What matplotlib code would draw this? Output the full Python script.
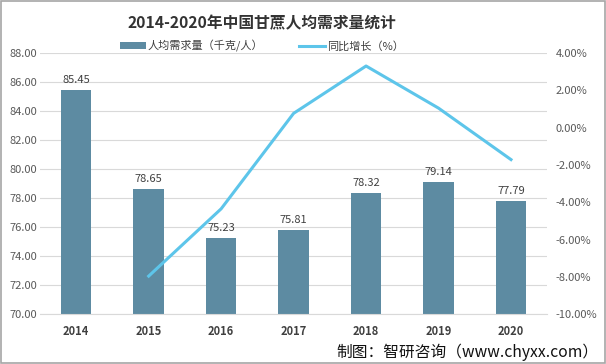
import matplotlib
matplotlib.use("Agg")
import matplotlib.pyplot as plt
from matplotlib.patches import Rectangle

plt.rcParams['font.family'] = ['Noto Sans CJK SC', 'DejaVu Sans']

years = ['2014', '2015', '2016', '2017', '2018', '2019', '2020']
demand = [85.45, 78.65, 75.23, 75.81, 78.32, 79.14, 77.79]
growth_years = ['2015', '2016', '2017', '2018', '2019', '2020']
growth = [-7.96, -4.35, 0.77, 3.31, 1.05, -1.71]
left_ticks = [70, 72, 74, 76, 78, 80, 82, 84, 86, 88]
right_ticks = [-10, -8, -6, -4, -2, 0, 2, 4]

bar_color = '#5D8BA2'
line_color = '#5DC5EA'
tick_color = '#595959'

fig = plt.figure(figsize=(6.06, 3.64), dpi=100)
fig.patch.set_facecolor('white')
ax = fig.add_axes([0.066, 0.137, 0.837, 0.717])

x = list(range(len(years)))
ax.bar(x, [d - 70 for d in demand], bottom=70, width=0.42, color=bar_color, zorder=2,
       label='人均需求量（千克/人）')
for xi, d in zip(x, demand):
    ax.text(xi, d + 0.35, f'{d:.2f}', ha='center', va='bottom', fontsize=8, color='#404040')

ax.set_ylim(70, 88)
ax.set_yticks(left_ticks)
ax.set_yticklabels([f'{v:.2f}' for v in left_ticks])
ax.set_xlim(-0.5, len(years) - 0.5)
ax.set_xticks(x)
ax.set_xticklabels(years, fontweight='bold')
ax.grid(axis='y', color='#D9D9D9', linewidth=0.8, zorder=0)
for s in ['top', 'right', 'left']:
    ax.spines[s].set_visible(False)
ax.spines['bottom'].set_color('#D9D9D9')
ax.tick_params(axis='y', length=0, labelsize=8, colors=tick_color, pad=2)
ax.tick_params(axis='x', length=0, labelsize=8, pad=8, colors='#404040')

ax2 = ax.twinx()
gx = [years.index(y) for y in growth_years]
ax2.plot(gx, growth, color=line_color, linewidth=2.2, label='同比增长（%）', zorder=3)
ax2.set_ylim(-10, 4)
ax2.set_yticks(right_ticks)
ax2.set_yticklabels([f'{v:.2f}%' for v in right_ticks])
for s in ax2.spines.values():
    s.set_visible(False)
ax2.tick_params(axis='y', length=0, labelsize=8, colors=tick_color, pad=6)

fig.text(0.432, 0.937, '2014-2020年中国甘蔗人均需求量统计', ha='center', va='center',
         fontsize=11.3, fontweight='bold', color='#333333')

h1, l1 = ax.get_legend_handles_labels()
h2, l2 = ax2.get_legend_handles_labels()
leg = fig.legend(h1 + h2, l1 + l2, loc='center', bbox_to_anchor=(0.432, 0.874), ncol=2,
                 frameon=False, fontsize=8, handlelength=2.3, handleheight=0.5,
                 handletextpad=0.2, columnspacing=3.2, labelcolor='#404040')

fig.text(0.987, 0.033, '制图：智研咨询（www.chyxx.com）', ha='right', va='center',
         fontsize=11.3, color='#111111')

fig.patches.append(Rectangle((0.001, 0.002), 0.997, 0.995, transform=fig.transFigure,
                             fill=False, edgecolor='#A6A6A6', linewidth=1.2))

fig.savefig('out.png', dpi=100)
